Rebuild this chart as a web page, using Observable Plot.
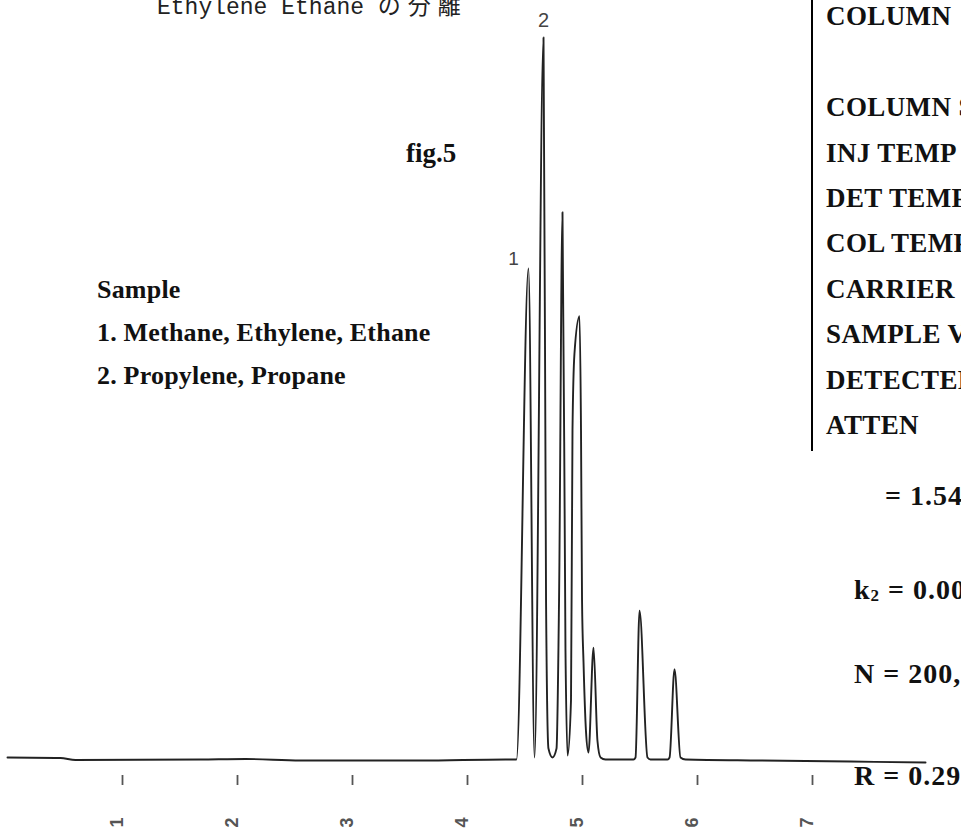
<!DOCTYPE html>
<html><head><meta charset="utf-8">
<script src="https://cdn.jsdelivr.net/npm/d3@7"></script>
<script src="https://cdn.jsdelivr.net/npm/@observablehq/plot@0.6"></script>
<style>
html,body{margin:0;padding:0;background:#fff;overflow:hidden;width:961px;height:834px}
#wrap{position:relative;width:961px;height:834px;overflow:hidden;background:#fff}
#wrap svg{position:absolute;left:0;top:0}
.t{position:absolute;white-space:nowrap;line-height:1;color:#111;margin:0}
.serif{font-family:"Liberation Serif","Times New Roman",serif;font-weight:bold}
.mono{font-family:"Liberation Mono","DejaVu Sans Mono","Noto Sans CJK JP",monospace;color:#222}
</style></head><body><div id="wrap"></div>
<script>
// ---- data (time in min, signal in relative units) ----
const traceTime = [0, 0.461, 0.591, 1.678, 2.070, 2.548, 3.591, 4.330, 4.426, 4.530, 4.583, 4.661, 4.683, 4.704, 4.739, 4.774, 4.796, 4.826, 4.852, 4.870, 4.900, 4.913, 4.930, 4.974, 4.987, 4.996, 5.009, 5.030, 5.052, 5.096, 5.130, 5.157, 5.200, 5.443, 5.461, 5.496, 5.565, 5.591, 5.739, 5.757, 5.800, 5.852, 5.896, 6.548, 7.330, 7.983];
const traceSignal = [0.28, 0.21, -0.07, 0, 0.07, -0.14, -0.14, 0, 0, 68.0, 0.28, 100, 22.0, 1.52, 0.28, 1.52, 22.0, 75.8, 15.1, 0.55, 8.2, 45.6, 56.2, 61.4, 45.6, 22.0, 13.4, 4.0, 0.97, 15.5, 2.6, 0.28, 0, 0, 0.28, 20.6, 0.28, 0, 0, 0.28, 12.5, 0.28, 0, -0.14, -0.28, -0.42];
const tickValues = [1, 2, 3, 4, 5, 6, 7];
const tickLabels = ["1", "2", "3", "4", "5", "6", "7"];
const peakLabelText = ["1", "2"];
const peakLabelTime = [4.530, 4.661];
const peakLabelSignal = [68.0, 100];

const titleText = "Ethylene Ethane ";
const titleJa = "の分離";
const figText = "fig.5";
const sampleLines = ["Sample", "1. Methane, Ethylene, Ethane", "2. Propylene, Propane"];
const infoLines = ["COLUMN", "COLUMN SIZE", "INJ TEMP", "DET TEMP", "COL TEMP", "CARRIER", "SAMPLE VOL", "DETECTER", "ATTEN"];
const infoRows = [0, 2, 3, 4, 5, 6, 7, 8, 9];

// ---- table for Plot ----
const trace = traceTime.map((t, i) => ({t, s: traceSignal[i]}));
const ticks = tickValues.map((v, i) => ({v, label: tickLabels[i]}));
const peaks = peakLabelText.map((label, i) => ({label, t: peakLabelTime[i], s: peakLabelSignal[i]}));

const chart = Plot.plot({
  width: 961,
  height: 834,
  marginLeft: 7,
  marginRight: 34,
  marginTop: 37,
  marginBottom: 75,
  x: {domain: [0, 8], label: null},
  y: {domain: [0, 100], axis: null},
  style: {background: "transparent"},
  marks: [
    Plot.axisX({ticks: tickValues, tickSize: 10, dy: 16, tickFormat: () => "", stroke: "#555", strokeWidth: 1.8, label: null}),
    Plot.text(ticks, {x: "v", text: "label", frameAnchor: "bottom", dy: 63, rotate: -90, fontSize: 18, fill: "#555", fontWeight: "bold", fontFamily: "Liberation Sans, Arial, sans-serif"}),
    Plot.line(trace, {x: "t", y: "s", curve: "monotone-x", stroke: "#222", strokeWidth: 1.9}),
    Plot.text(peaks.filter(d => d.label === "1"), {x: "t", y: "s", text: "label", dx: -15, dy: -10, fontSize: 19, fill: "#444", fontFamily: "Liberation Sans, Arial, sans-serif"}),
    Plot.text(peaks.filter(d => d.label === "2"), {x: "t", y: "s", text: "label", dx: 0, dy: -17, fontSize: 20, fill: "#444", fontFamily: "Liberation Sans, Arial, sans-serif"})
  ]
});
const wrap = document.getElementById("wrap");
wrap.appendChild(chart);

// ---- text annotations (positioned by baseline) ----
function addText(html, x, baseline, size, cls, extra) {
  const d = document.createElement("div");
  d.className = "t " + cls;
  d.style.fontSize = size + "px";
  const k = cls === "mono" ? 0.7665 : 0.8375;
  d.style.left = x + "px";
  d.style.top = (baseline - k * size) + "px";
  if (extra) Object.assign(d.style, extra);
  d.innerHTML = html;
  wrap.appendChild(d);
  return d;
}
addText(titleText + '<span style="letter-spacing:7px">' + titleJa + '</span>', 157, 15, 23, "mono");
addText(figText, 406, 163, 27, "serif");
sampleLines.forEach((s, i) => addText(s, 97, 299 + 43 * i, 26, "serif", {letterSpacing: "0.2px"}));
infoLines.forEach((s, i) => addText(s, 826, 26 + 45.4 * infoRows[i], 27, "serif", {letterSpacing: "0.4px"}));
const lr = {letterSpacing: "1px"};
addText("= 1.54", 885, 505, 28, "serif", lr);
addText('k<span style="font-size:17px;vertical-align:-2px">2</span> = 0.00', 854, 599, 28, "serif", lr);
addText("N = 200,", 854, 683, 28, "serif", lr);
addText("R = 0.29", 854, 785, 28, "serif", lr);

const vline = document.createElement("div");
Object.assign(vline.style, {position: "absolute", left: "811px", top: "0px", width: "2px", height: "451px", background: "#000"});
wrap.appendChild(vline);
</script></body></html>
